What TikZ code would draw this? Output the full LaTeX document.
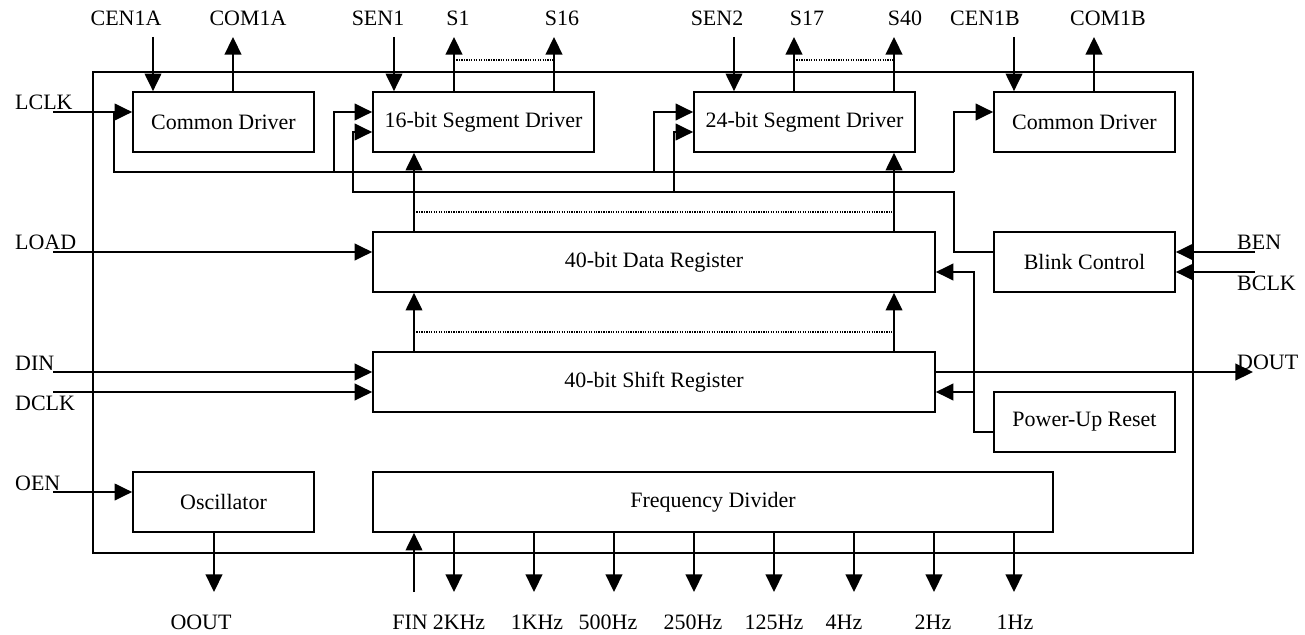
\documentclass[tikz,border=0pt]{standalone}
\usepackage{fontspec}
\setmainfont{Liberation Serif}
\usetikzlibrary{arrows.meta,calc,positioning}
\tikzset{
  blk/.style={draw,line width=1pt,minimum height=1.2cm,inner sep=0pt},
  arr/.style={-{Triangle[length=10pt,width=9.5pt]},line width=1pt},
  wire/.style={line width=1pt},
  dotln/.style={dash pattern=on 0.7pt off 0.7pt,line width=0.6pt},
  frame/.style={draw,line width=1pt},
  every node/.style={font=\fontsize{12.5}{15}\selectfont}
}

\begin{document}
\begin{tikzpicture}[x=0.02cm,y=-0.02cm]
\useasboundingbox (0,0) rectangle (1305,635);
\draw[frame] (93,72) rectangle (1193,553);

% blocks
\node[blk,minimum width=3.62cm] (cdA) at (223.5,122) {Common Driver};
\node[blk,minimum width=4.42cm] (seg16) at (483.5,122) {16-bit Segment Driver};
\node[blk,minimum width=4.42cm] (seg24) at (804.5,122) {24-bit Segment Driver};
\node[blk,minimum width=3.62cm] (cdB) at (1084.5,122) {Common Driver};
\node[blk,minimum width=11.24cm] (dreg) at (654,262) {40-bit Data Register};
\node[blk,minimum width=3.62cm] (blink) at (1084.5,262) {Blink Control};
\node[blk,minimum width=11.24cm] (sreg) at (654,382) {40-bit Shift Register};
\node[blk,minimum width=3.62cm] (por) at (1084.5,422) {Power-Up Reset};
\node[blk,minimum width=3.62cm] (osc) at (223.5,502) {Oscillator};
\node[blk,minimum width=13.6cm] (fdiv) at (713,502) {Frequency Divider};

% top pins
\node (lcenA) at (126,18) {CEN1A};
\node (lcomA) at (248,18) {COM1A};
\node (lsen1) at (378,18) {SEN1};
\node (ls1) at (458,18) {S1};
\node (ls16) at (562,18) {S16};
\node (lsen2) at (717,18) {SEN2};
\node (ls17) at (807,18) {S17};
\node (ls40) at (905,18) {S40};
\node (lcenB) at (985,18) {CEN1B};
\node (lcomB) at (1108,18) {COM1B};
\coordinate (cenA) at (153,37);
\coordinate (comA) at (233,37);
\coordinate (sen1) at (394,37);
\coordinate (s1) at (454,37);
\coordinate (s16) at (554,37);
\coordinate (sen2) at (734,37);
\coordinate (s17) at (794,37);
\coordinate (s40) at (894,37);
\coordinate (cenB) at (1014,37);
\coordinate (comB) at (1094,37);
\draw[arr] (cenA) -- (cenA |- cdA.north);
\draw[arr] (comA |- cdA.north) -- (comA);
\draw[arr] (sen1) -- (sen1 |- seg16.north);
\draw[arr] (s1 |- seg16.north) -- (s1);
\draw[arr] (s16 |- seg16.north) -- (s16);
\draw[dotln] ($(s1)+(0,23)$) -- ($(s16)+(0,23)$);
\draw[arr] (sen2) -- (sen2 |- seg24.north);
\draw[arr] (s17 |- seg24.north) -- (s17);
\draw[arr] (s40 |- seg24.north) -- (s40);
\draw[dotln] ($(s17)+(0,23)$) -- ($(s40)+(0,23)$);
\draw[arr] (cenB) -- (cenB |- cdB.north);
\draw[arr] (comB |- cdB.north) -- (comB);

% LCLK bus
\node[anchor=west] (llclk) at (9,102) {LCLK};
\coordinate (lclk) at (53,112);
\coordinate (jclk) at (114,112);
\draw[arr] (lclk) -- (cdA.west |- lclk);
\draw[wire] (jclk) |- (954,172);
\draw[arr] (334,172) |- (seg16.west |- lclk);
\draw[arr] (654,172) |- (seg24.west |- lclk);
\draw[arr] (954,172) |- (cdB.west |- lclk);

% blink bus
\node[anchor=west] (lben) at (1231,242) {BEN};
\node[anchor=west] (lbclk) at (1231,283) {BCLK};
\coordinate (ben) at (1255,252);
\coordinate (bclk) at (1255,272);
\coordinate (bout) at (954,192);
\draw[arr] (ben) -- (blink.east |- ben);
\draw[arr] (bclk) -- (blink.east |- bclk);
\draw[arr] (blink.west |- ben) -| (bout) -| (353,132) -- (seg16.west |- 0,132);
\draw[arr] (674,192) |- (seg24.west |- 0,132);

% register columns
\coordinate (colL) at (414,300);
\coordinate (colR) at (894,300);
\draw[arr] (colL |- dreg.north) -- (colL |- seg16.south);
\draw[arr] (colR |- dreg.north) -- (colR |- seg24.south);
\draw[dotln] (colL |- 0,212) -- (colR |- 0,212);
\draw[arr] (colL |- sreg.north) -- (colL |- dreg.south);
\draw[arr] (colR |- sreg.north) -- (colR |- dreg.south);
\draw[dotln] (colL |- 0,332) -- (colR |- 0,332);

% left inputs
\node[anchor=west] (lload) at (9,242) {LOAD};
\node[anchor=west] (ldin) at (9,363) {DIN};
\node[anchor=west] (ldclk) at (9,403) {DCLK};
\node[anchor=west] (loen) at (9,483) {OEN};
\coordinate (load) at (53,252);
\coordinate (din) at (53,372);
\coordinate (dclk) at (53,392);
\coordinate (oen) at (53,492);
\draw[arr] (load) -- (dreg.west |- load);
\draw[arr] (din) -- (sreg.west |- din);
\draw[arr] (dclk) -- (sreg.west |- dclk);
\draw[arr] (oen) -- (osc.west |- oen);

% DOUT and reset
\node[anchor=west] (ldout) at (1231,362) {DOUT};
\coordinate (dout) at (1253,372);
\draw[arr] (sreg.east |- dout) -- (dout);
\coordinate (prst) at (974,432);
\draw[arr] (por.west |- prst) -- (prst) |- (dreg.east |- 0,272);
\draw[arr] (974,392) -- (sreg.east |- 0,392);

% bottom pins
\coordinate (oout) at (214,592);
\coordinate (fin) at (414,592);
\draw[arr] (oout |- osc.south) -- (oout);
\draw[arr] (fin) -- (fin |- fdiv.south);
\draw[arr] (454,0 |- fdiv.south) -- (454,592);
\draw[arr] (534,0 |- fdiv.south) -- (534,592);
\draw[arr] (614,0 |- fdiv.south) -- (614,592);
\draw[arr] (694,0 |- fdiv.south) -- (694,592);
\draw[arr] (774,0 |- fdiv.south) -- (774,592);
\draw[arr] (854,0 |- fdiv.south) -- (854,592);
\draw[arr] (934,0 |- fdiv.south) -- (934,592);
\draw[arr] (1014,0 |- fdiv.south) -- (1014,592);
\node (loout) at (201,622) {OOUT};
\node (lfin) at (410,622) {FIN};
\node (l2k) at (459,622) {2KHz};
\node (l1k) at (537,622) {1KHz};
\node (l500) at (608,622) {500Hz};
\node (l250) at (693,622) {250Hz};
\node (l125) at (774,622) {125Hz};
\node (l4) at (844,622) {4Hz};
\node (l2) at (933,622) {2Hz};
\node (l1) at (1015,622) {1Hz};
\end{tikzpicture}
\end{document}
